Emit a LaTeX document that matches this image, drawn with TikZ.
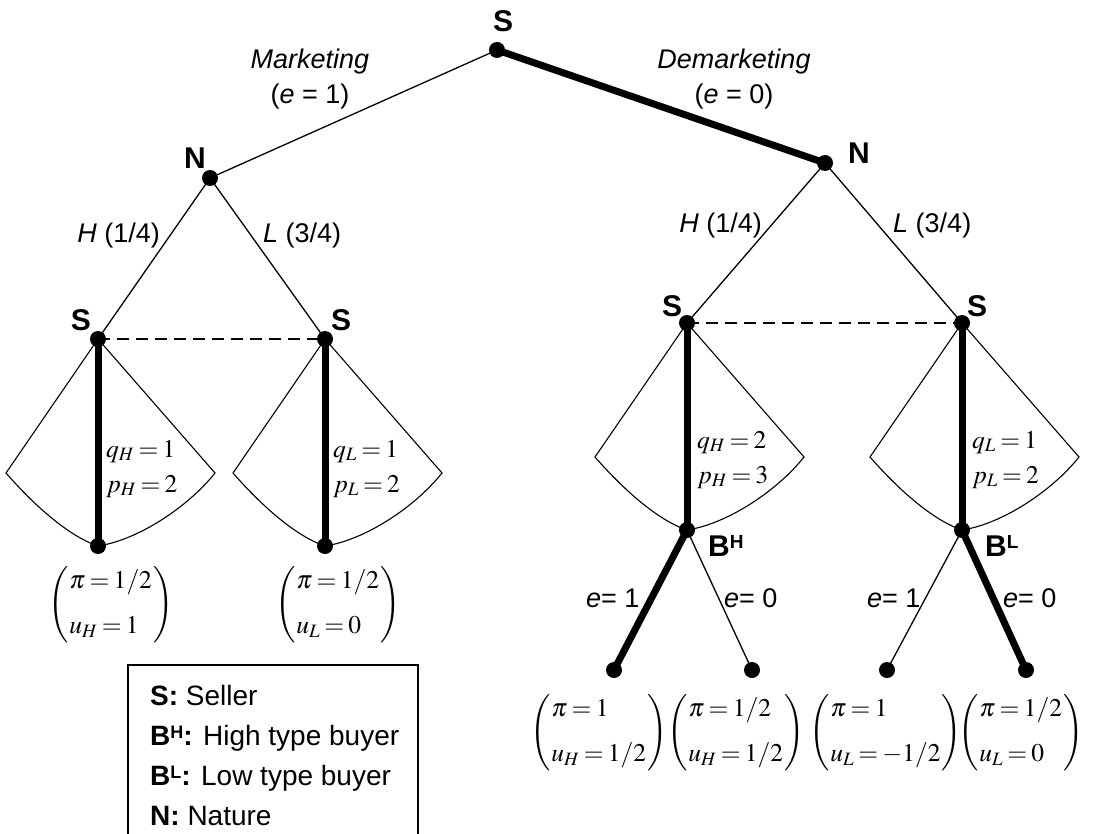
\documentclass[tikz,border=0pt]{standalone}
\usepackage{amsmath}
\usepackage{mathptmx}
\usepackage[no-math]{fontspec}
\setmainfont{Liberation Sans}
\thickmuskip=3mu plus 2mu
\medmuskip=2.5mu plus 1mu
\newcommand\payoff[2]{$\left(\begin{array}{@{\hspace{1pt}}l@{\hspace{1pt}}}#1\\[15pt]#2\end{array}\right)$}
\newcommand\supbig[2]{\raisebox{#2}{\fontsize{#1}{#1}\selectfont\bfseries}}
\newcommand\typesup[3]{\raisebox{#2}{\fontsize{#1}{#1}\selectfont\bfseries #3}}
\begin{document}
\begin{tikzpicture}[x=1pt,y=-1pt,
  dot/.style={circle,fill=black,inner sep=0pt,minimum size=16pt},
  thinl/.style={line width=1.3pt},
  thickl/.style={line width=7pt},
  infoset/.style={line width=2pt,dash pattern=on 12pt off 7pt},
  fanline/.style={line width=1.1pt},
  player/.style={font=\fontsize{30}{34}\selectfont\bfseries,inner sep=0pt},
  txt/.style={font=\fontsize{27}{32}\selectfont,inner sep=0pt},
  mth/.style={font=\fontsize{25.5}{30}\selectfont,inner sep=0pt},
  legend/.style={font=\fontsize{28}{32}\selectfont,inner sep=0pt,anchor=base west},
  fan/.pic={\draw[fanline] (0,0) -- (-92,134) .. controls (-65,165) and (-30,197) .. (0,207) .. controls (40,201) and (90,168) .. (117,134) -- cycle;}
]
\useasboundingbox (0,0) rectangle (1099,834);

% positions
\coordinate (root) at (497,50);
\coordinate (NL) at (210,178);
\coordinate (NR) at (825,163);
\coordinate (S1) at (98,339);
\coordinate (S2) at (325,339);
\coordinate (S3) at (687,323);
\coordinate (S4) at (962,323);
\coordinate (T1) at (98,546);
\coordinate (T2) at (325,546);
\coordinate (BH) at (687,530);
\coordinate (BL) at (962,530);
\coordinate (Z1) at (614,670);
\coordinate (Z2) at (752,670);
\coordinate (Z3) at (887,670);
\coordinate (Z4) at (1026,670);

% fans
\pic at (S1) {fan};
\pic at (S2) {fan};
\pic at (S3) {fan};
\pic at (S4) {fan};

% edges
\draw[thinl] (root) -- (NL);
\draw[thickl] (root) -- (NR);
\draw[thinl] (NL) -- (S1);
\draw[thinl] (NL) -- (S2);
\draw[thinl] (NR) -- (S3);
\draw[thinl] (NR) -- (S4);
\draw[infoset] (S1) -- (S2);
\draw[infoset] (S3) -- (S4);
\draw[thickl] (S1) -- (T1);
\draw[thickl] (S2) -- (T2);
\draw[thickl] (S3) -- (BH);
\draw[thickl] (S4) -- (BL);
\draw[thickl] (BH) -- (Z1);
\draw[thinl] (BH) -- (Z2);
\draw[thinl] (BL) -- (Z3);
\draw[thickl] (BL) -- (Z4);

% dots
\foreach \p in {root,NL,NR,S1,S2,S3,S4,T1,T2,BH,BL,Z1,Z2,Z3,Z4}
  \node[dot] (\p-dot) at (\p) {};

% player labels
\node[player] (lroot) at (503,21) {S};
\node[player] (lNL) at (195,158) {N};
\node[player] (lNR) at (859,153) {N};
\node[player] (lS1) at (81,320) {S};
\node[player] (lS2) at (341,320) {S};
\node[player] (lS3) at (672,306) {S};
\node[player] (lS4) at (977,306) {S};
\node[player,anchor=base west] (lBH) at (708,556) {B\typesup{19}{8pt}{H}};
\node[player,anchor=base west] (lBL) at (985,556) {B\typesup{19}{8pt}{L}};

% action labels
\node[txt] (mk) at (310,62) {\itshape Marketing};
\node[txt] (mk2) at (310,97) {(\textit{e} = 1)};
\node[txt] (dm) at (734,62) {\itshape Demarketing};
\node[txt] (dm2) at (734,97) {(\textit{e} = 0)};
\node[txt,anchor=base east] (hl) at (160,242) {\textit{H} (1/4)};
\node[txt,anchor=base west] (ll) at (263,242) {\textit{L} (3/4)};
\node[txt,anchor=base east] (hr) at (762,233) {\textit{H} (1/4)};
\node[txt,anchor=base west] (lr) at (893,233) {\textit{L} (3/4)};
\node[txt,anchor=base west] (e1) at (586,607) {\textit{e}= 1};
\node[txt,anchor=base west] (e2) at (724,607) {\textit{e}= 0};
\node[txt,anchor=base west] (e3) at (867,607) {\textit{e}= 1};
\node[txt,anchor=base west] (e4) at (1003,607) {\textit{e}= 0};

% price / quality
\node[mth,anchor=base west] (q1) at (106,457) {$q_H = 1$};
\node[mth,anchor=base west] (p1) at (106,492) {$p_H = 2$};
\node[mth,anchor=base west] (q2) at (333,457) {$q_L = 1$};
\node[mth,anchor=base west] (p2) at (333,492) {$p_L = 2$};
\node[mth,anchor=base west] (q3) at (697,448) {$q_H = 2$};
\node[mth,anchor=base west] (p3) at (697,483) {$p_H = 3$};
\node[mth,anchor=base west] (q4) at (972,448) {$q_L = 1$};
\node[mth,anchor=base west] (p4) at (972,483) {$p_L = 2$};

% payoffs
\node[mth,anchor=west] (v1) at (48,605) {\payoff{\pi = 1/2}{u_H = 1}};
\node[mth,anchor=west] (v2) at (275,605) {\payoff{\pi = 1/2}{u_L = 0}};
\node[mth,anchor=west] (v3) at (530,733) {\payoff{\pi = 1}{u_H = 1/2}};
\node[mth,anchor=west] (v4) at (667,733) {\payoff{\pi = 1/2}{u_H = 1/2}};
\node[mth,anchor=west] (v5) at (809,733) {\payoff{\pi = 1}{u_L = -1/2}};
\node[mth,anchor=west] (v6) at (958,733) {\payoff{\pi = 1/2}{u_L = 0}};

% legend
\draw[line width=1.5pt] (128,834) -- (128,665) -- (418,665) -- (418,834);
\node[legend] (lg1) at (150,705) {\textbf{S:} Seller};
\node[legend] (lg2) at (150,745) {\textbf{B\typesup{18}{7pt}{H}:} High type buyer};
\node[legend] (lg3) at (150,785) {\textbf{B\typesup{18}{7pt}{L}:} Low type buyer};
\node[legend] (lg4) at (150,825) {\textbf{N:} Nature};
\end{tikzpicture}
\end{document}
